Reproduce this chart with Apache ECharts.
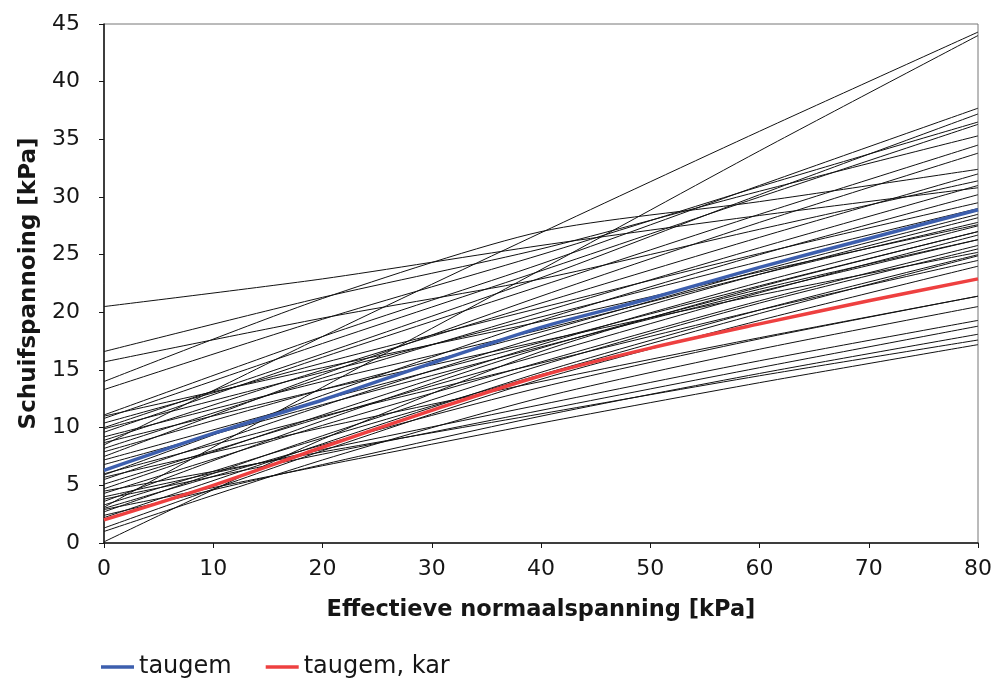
<!DOCTYPE html>
<html>
<head>
<meta charset="utf-8">
<script src="https://cdn.jsdelivr.net/npm/echarts@6/dist/echarts.min.js"></script>
<style>
  html, body { margin: 0; padding: 0; background: #fff; }
  #chart { width: 995px; height: 679px; }
</style>
</head>
<body>
<div id="chart"></div>
<script>
// normaalspanning steps for the individual tests
const testX = [0, 20, 40, 60, 80];
// one row per test: schuifspanning at testX
const testLines = [
  [8.5, 17.9, 26.9, 35.7, 44.3],
  [3.1, 13.5, 23.7, 34.0, 44.0],
  [11.1, 17.9, 24.2, 31.0, 37.7],
  [10.0, 16.4, 23.0, 30.2, 37.2],
  [13.3, 19.4, 25.0, 30.9, 36.5],
  [10.8, 17.3, 23.6, 30.0, 36.3],
  [16.6, 21.3, 25.5, 30.5, 35.3],
  [9.6, 16.1, 22.3, 28.5, 34.5],
  [7.5, 14.6, 21.4, 27.8, 33.8],
  [14.0, 21.2, 27.0, 29.6, 32.4],
  [8.9, 15.0, 20.8, 26.5, 32.0],
  [15.7, 19.5, 22.9, 27.2, 31.4],
  [8.2, 14.3, 20.0, 25.6, 31.0],
  [20.5, 22.9, 25.8, 28.4, 30.8],
  [5.9, 12.8, 19.3, 25.0, 30.2],
  [10.4, 15.6, 20.4, 25.1, 29.5],
  [7.9, 13.3, 18.3, 23.6, 28.5],
  [5.5, 11.9, 17.9, 23.3, 28.2],
  [9.2, 14.0, 18.5, 23.3, 27.8],
  [4.7, 11.1, 17.2, 22.6, 27.5],
  [0.1, 9.0, 16.6, 22.2, 27.0],
  [5.1, 10.9, 16.3, 21.7, 26.7],
  [3.6, 10.6, 16.9, 22.0, 26.3],
  [4.3, 10.2, 15.7, 21.0, 25.8],
  [2.7, 9.3, 15.4, 20.8, 25.5],
  [8.7, 13.3, 17.5, 21.5, 25.2],
  [3.3, 9.1, 14.6, 19.9, 24.9],
  [6.0, 11.0, 15.6, 20.2, 24.5],
  [1.3, 8.0, 14.2, 19.3, 24.0],
  [3.0, 8.5, 13.5, 17.7, 21.4],
  [5.7, 10.0, 14.0, 17.8, 21.4],
  [1.0, 7.2, 12.6, 16.8, 20.5],
  [4.0, 8.1, 12.0, 15.8, 19.3],
  [3.8, 7.7, 11.5, 15.2, 18.8],
  [2.4, 6.8, 11.0, 14.7, 18.1],
  [4.5, 7.9, 11.2, 14.5, 17.6],
  [2.9, 6.7, 10.4, 13.9, 17.2],
  [6.8, 12.0, 17.0, 21.8, 26.3],
  [7.2, 12.4, 17.4, 22.3, 27.0],
  [2.2, 8.6, 14.8, 20.2, 25.0],
  [9.9, 14.8, 19.6, 24.4, 29.0],
  [11.0, 15.2, 19.2, 23.5, 27.6]
];

const avgX = [0, 10, 20, 30, 40, 50, 60, 70, 80];
const taugem = [6.3, 9.5, 12.4, 15.6, 18.7, 21.2, 23.9, 26.4, 28.9];
const taugemKar = [2.0, 5.0, 8.3, 11.5, 14.5, 16.9, 19.0, 21.0, 22.9];

const font = '"DejaVu Sans", Verdana, sans-serif';
const ink = '#161616';
const legendIcon = 'path://M0,10 L30,10 L30,13 L0,13 Z';

const pairs = (xs, ys) => xs.map((x, i) => [x, ys[i]]);

const series = testLines.map((row, i) => ({
  name: 'proef ' + (i + 1),
  type: 'line',
  data: pairs(testX, row),
  smooth: 0.25,
  symbol: 'none',
  silent: true,
  lineStyle: { color: '#111', width: 1 },
  z: 2
}));

series.push({
  name: 'taugem',
  type: 'line',
  data: pairs(avgX, taugem),
  smooth: 0.3,
  symbol: 'none',
  lineStyle: { color: '#3d5fae', width: 3.5 },
  itemStyle: { color: '#3d5fae' },
  z: 5
});
series.push({
  name: 'taugem, kar',
  type: 'line',
  data: pairs(avgX, taugemKar),
  smooth: 0.3,
  symbol: 'none',
  lineStyle: { color: '#ee4040', width: 3.5 },
  itemStyle: { color: '#ee4040' },
  z: 5
});

const chart = echarts.init(document.getElementById('chart'), null, { renderer: 'canvas' });
chart.setOption({
  animation: false,
  textStyle: { fontFamily: font },
  grid: {
    left: 104, right: 14, top: 24, bottom: 136,
    show: true, borderColor: '#777', borderWidth: 1
  },
  legend: {
    data: [
      { name: 'taugem', icon: legendIcon },
      { name: 'taugem, kar', icon: legendIcon }
    ],
    left: 96, top: 650,
    itemWidth: 33, itemHeight: 13, itemGap: 34,
    textStyle: { fontSize: 24, color: ink, fontFamily: font }
  },
  xAxis: {
    type: 'value', min: 0, max: 80, interval: 10,
    name: 'Effectieve normaalspanning [kPa]',
    nameLocation: 'middle', nameGap: 56,
    nameTextStyle: { fontSize: 22.5, fontWeight: 'bold', color: ink },
    axisLine: { lineStyle: { color: ink, width: 1.5 } },
    axisTick: { show: true, length: 5, lineStyle: { color: ink } },
    axisLabel: { fontSize: 22, color: ink, margin: 15 },
    splitLine: { show: false }
  },
  yAxis: {
    type: 'value', min: 0, max: 45, interval: 5,
    name: 'Schuifspannoing [kPa]',
    nameLocation: 'middle', nameGap: 63,
    nameTextStyle: { fontSize: 23, fontWeight: 'bold', color: ink },
    axisLine: { show: true, lineStyle: { color: ink, width: 1.5 } },
    axisTick: { show: true, length: 5, lineStyle: { color: ink } },
    axisLabel: { fontSize: 22, color: ink, margin: 24 },
    splitLine: { show: false }
  },
  series: series
});
</script>
</body>
</html>
